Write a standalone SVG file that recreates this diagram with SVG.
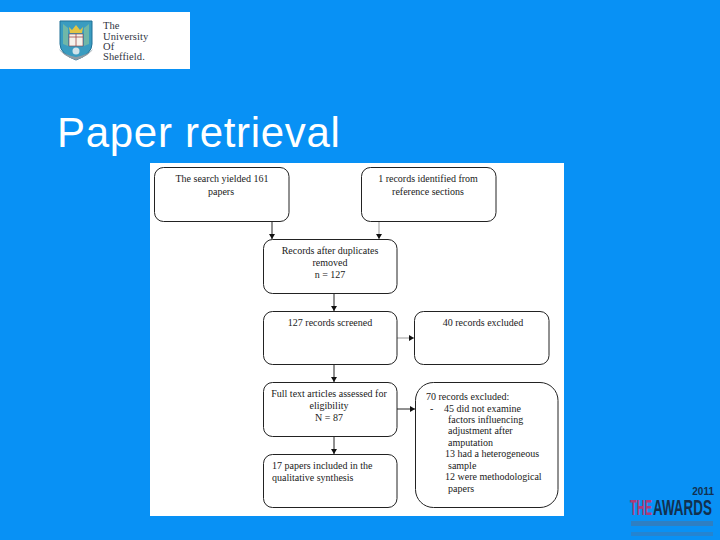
<svg xmlns="http://www.w3.org/2000/svg" width="720" height="540" viewBox="0 0 720 540">
<style>
.box{fill:#fff;stroke:#222;stroke-width:1}
.conn{fill:none;stroke:#222;stroke-width:1}
.soft{stroke:#999}
.t{font-family:"Liberation Serif",serif;font-size:10px;fill:#1a1a1a}
.m{text-anchor:middle}
.logo{font-family:"Liberation Serif",serif;font-size:10.500px;letter-spacing:0.1px;fill:#30353f}
</style>
<defs>
<marker id="arr" markerUnits="userSpaceOnUse" markerWidth="7" markerHeight="7" refX="5" refY="3" orient="auto"><path d="M0 0L5 3L0 6Z" fill="#111"/></marker>
</defs>
<rect width="720" height="540" fill="#0891f5"/>
<g id="logo">
<rect x="0" y="12" width="190" height="57" fill="#fff"/>
<path d="M60 21H92V44Q92 54 76 60Q60 54 60 44Z" fill="#3a9cc0" stroke="#1f6f95"/>
<path d="M69 27L72 30L76 25L80 30L83 27L82 33H70Z" fill="#e3c544"/>
<path d="M63 24L68 28V46L63 44ZM89 24L84 28V46L89 44Z" fill="#6fb7a8"/>
<rect x="69" y="34" width="14" height="12" fill="#f6f3ec" stroke="#8a3a3a" stroke-width="0.6"/>
<path d="M69 37H83M76 34V46" stroke="#a04848" stroke-width="0.8"/>
<circle cx="76" cy="51" r="3.500" fill="#cfe3ea"/>
<path d="M57 46Q62 56 76 60Q90 56 95 46L93 49Q88 55 76 57Q64 55 59 49Z" fill="#8d9ba3"/>
<text class="logo" x="103" y="29">The</text>
<text class="logo" x="103" y="39.500">University</text>
<text class="logo" x="103" y="49.800">Of</text>
<text class="logo" x="103" y="60">Sheffield.</text>
</g>
<text id="title" x="57" y="147" font-family="Liberation Sans,sans-serif" font-size="42" letter-spacing="0.7" fill="#fff">Paper retrieval</text>
<rect id="panel" x="150" y="163" width="414" height="353" fill="#fff"/>
<g id="connectors">
<path class="conn" d="M272 222V239" marker-end="url(#arr)"/>
<path class="conn soft" d="M379 222V239" marker-end="url(#arr)"/>
<path class="conn" d="M334 293V311" marker-end="url(#arr)"/>
<path class="conn soft" d="M397 338H414" marker-end="url(#arr)"/>
<path class="conn" d="M334 365V382" marker-end="url(#arr)"/>
<path class="conn" d="M334 437V454" marker-end="url(#arr)"/>
<path class="conn" d="M397 409H415" marker-end="url(#arr)"/>
</g>
<g id="n1"><rect class="box" x="154.500" y="167.500" width="134.500" height="54" rx="9"/>
<text class="t m" x="222" y="182">The search yielded 161</text><text class="t m" x="221" y="195">papers</text></g>
<g id="n2"><rect class="box" x="361.500" y="167.500" width="134.500" height="54" rx="9"/>
<text class="t m" x="428" y="182">1 records identified from</text><text class="t m" x="428" y="195">reference sections</text></g>
<g id="n3"><rect class="box" x="263.500" y="239.500" width="133.500" height="54" rx="9"/>
<text class="t m" x="330" y="254">Records after duplicates</text><text class="t m" x="330" y="266">removed</text><text class="t m" x="330" y="278">n = 127</text></g>
<g id="n4"><rect class="box" x="263.500" y="311.500" width="133.500" height="53" rx="9"/>
<text class="t m" x="330" y="326">127 records screened</text></g>
<g id="n5"><rect class="box" x="414.500" y="311.500" width="134.500" height="53" rx="9"/>
<text class="t m" x="483" y="326">40 records excluded</text></g>
<g id="n6"><rect class="box" x="263.500" y="382.500" width="133.500" height="54" rx="9"/>
<text class="t m" x="329" y="397">Full text articles assessed for</text><text class="t m" x="329" y="409">eligibility</text><text class="t m" x="329" y="421">N = 87</text></g>
<g id="n7"><rect class="box" x="263.500" y="454.500" width="133.500" height="53" rx="9"/>
<text class="t" x="272" y="469">17 papers included in the</text><text class="t" x="272" y="481">qualitative synthesis</text></g>
<g id="n8"><rect class="box" x="415.500" y="382.500" width="142.500" height="125" rx="18"/>
<text class="t" x="426" y="400">70 records excluded:</text>
<text class="t" x="430" y="412">-</text>
<text class="t" x="444" y="412">45 did not examine</text>
<text class="t" x="448" y="423">factors influencing</text>
<text class="t" x="448" y="434">adjustment after</text>
<text class="t" x="448" y="446">amputation</text>
<text class="t" x="445" y="457">13 had a heterogeneous</text>
<text class="t" x="448" y="469">sample</text>
<text class="t" x="445" y="480">12 were methodological</text>
<text class="t" x="448" y="492">papers</text></g>
<g id="awards" font-family="Liberation Sans,sans-serif" font-weight="700">
<text x="714" y="495" font-size="10" fill="#12304f" text-anchor="end">2011</text>
<text transform="translate(630 515) scale(0.5 1)" font-size="22" fill="#b03a78">THE</text>
<text transform="translate(653 515) scale(0.61 1)" font-size="22" fill="#12304f">AWARDS</text>
<rect x="631" y="521" width="82" height="5" fill="#3f77ad" opacity="0.7"/>
<rect x="631" y="532" width="82" height="4" fill="#3f77ad" opacity="0.5"/>
</g>
</svg>
